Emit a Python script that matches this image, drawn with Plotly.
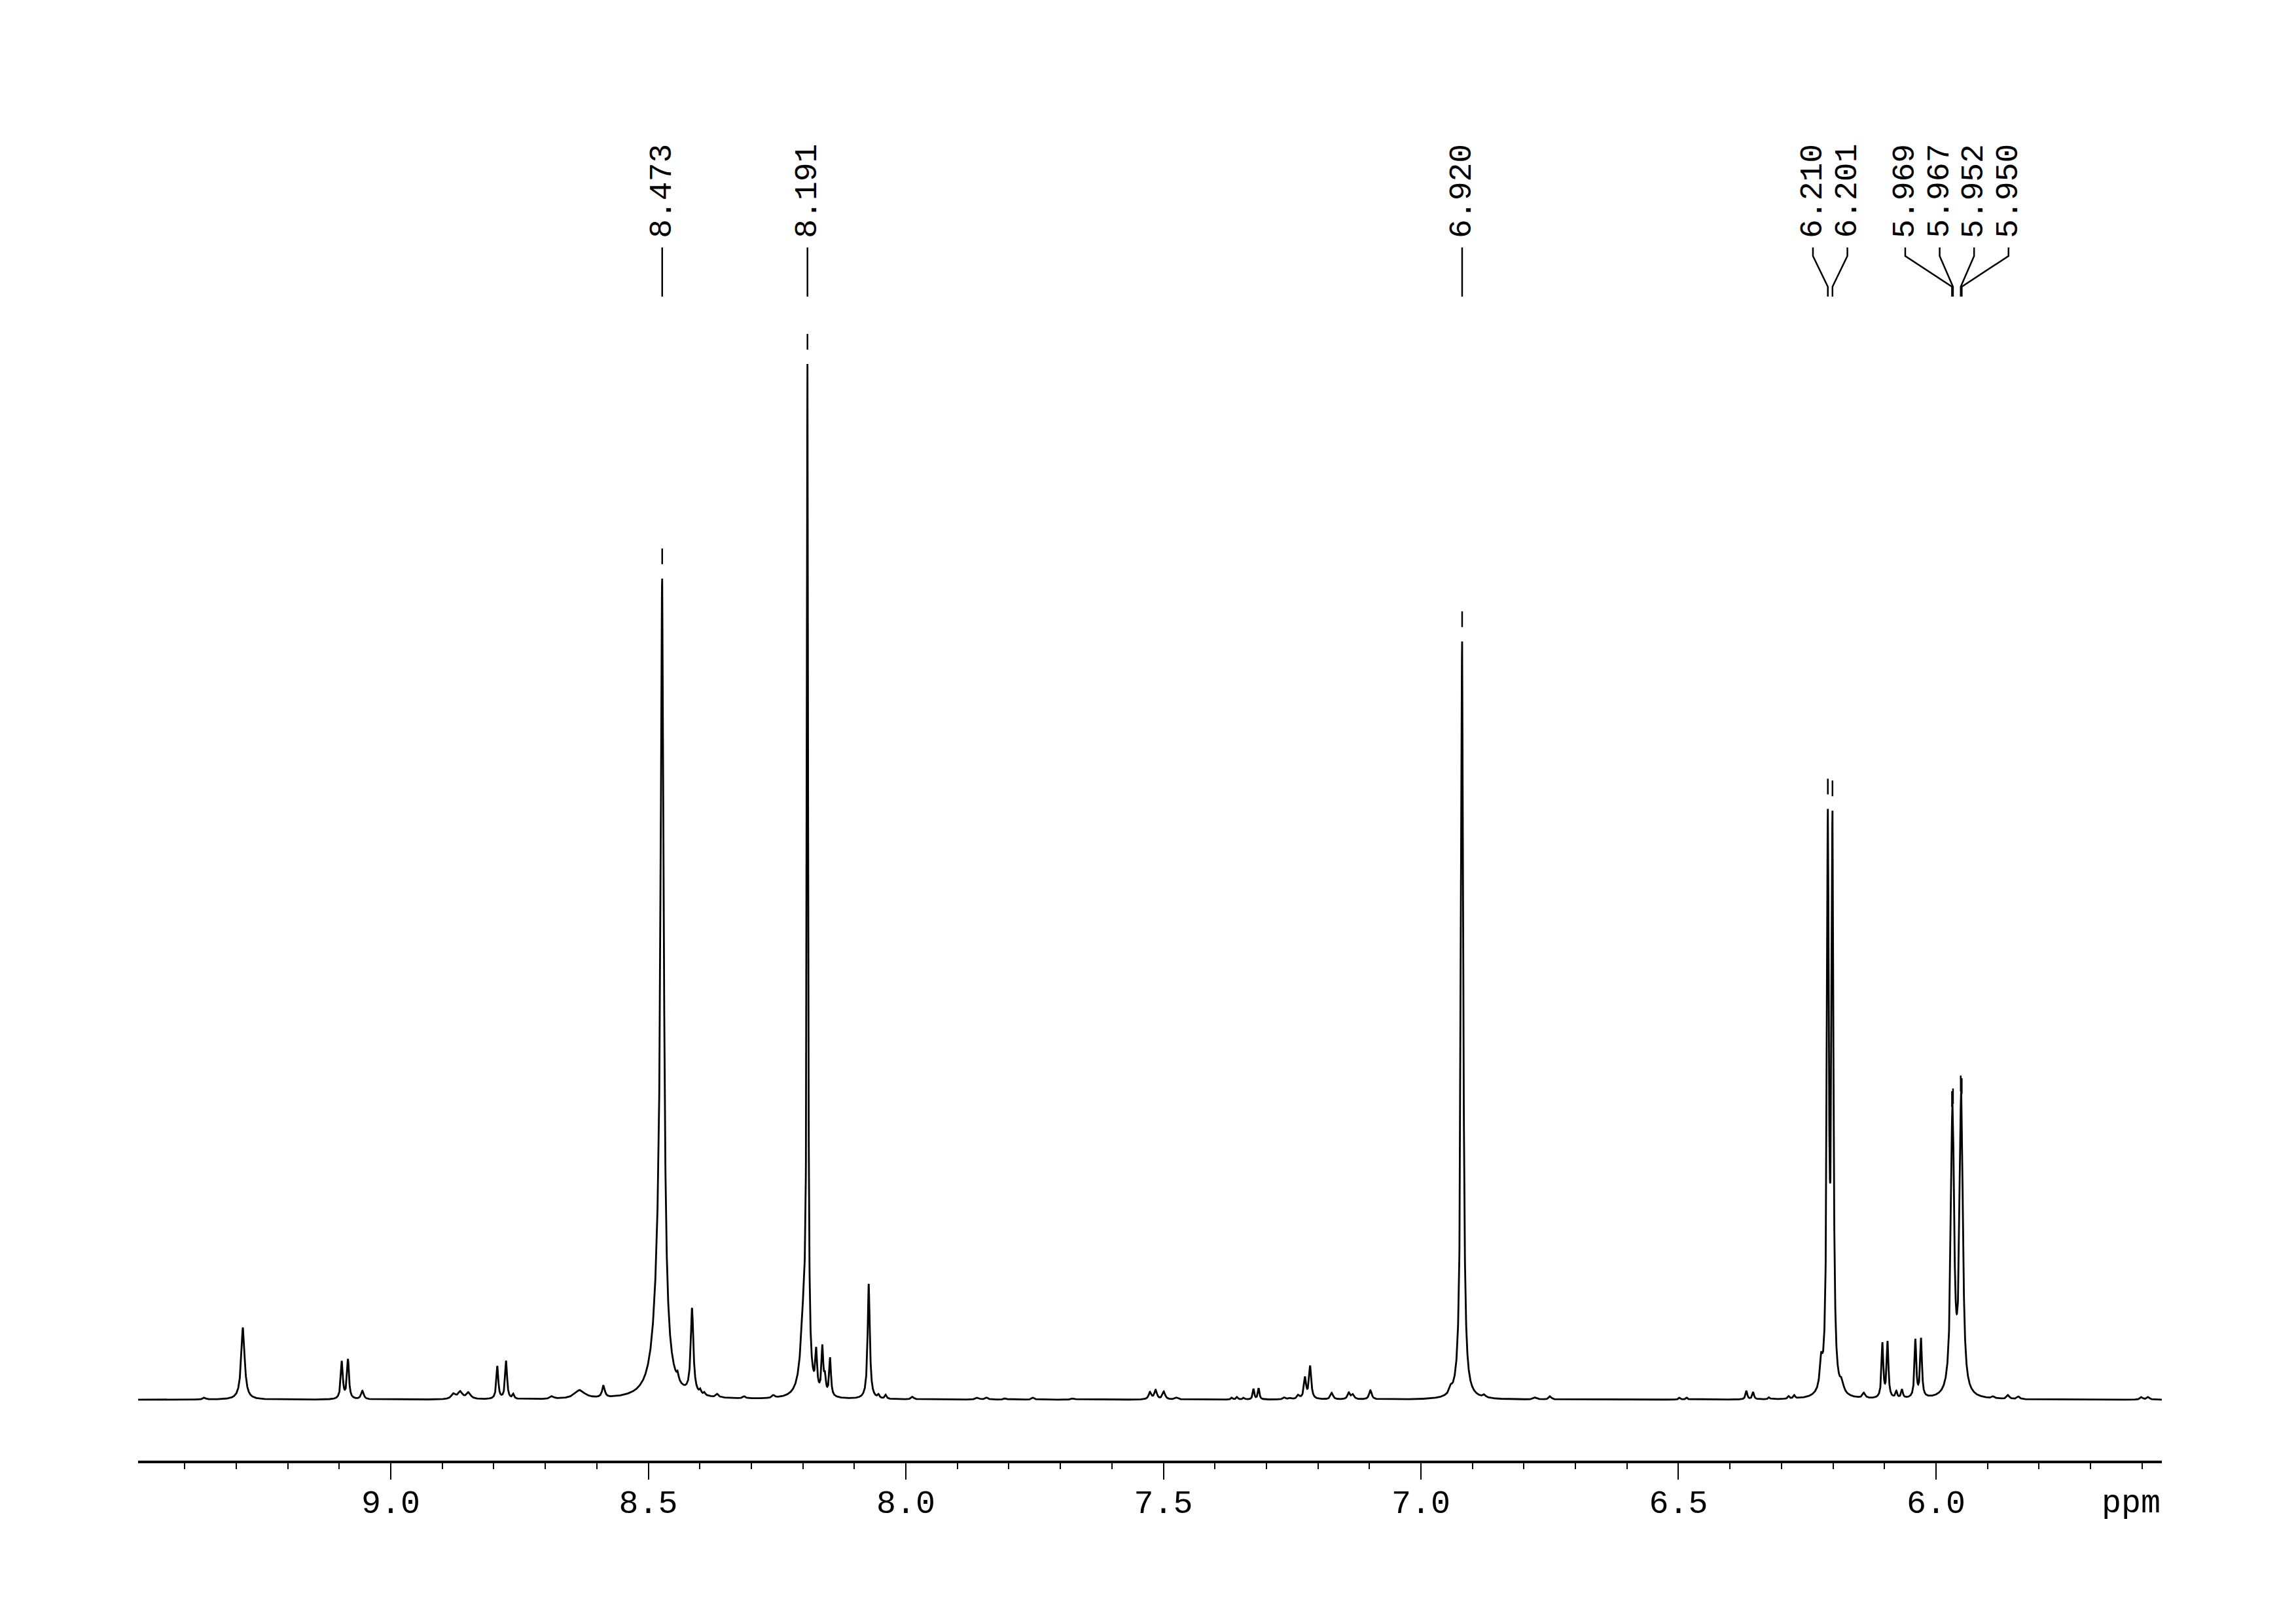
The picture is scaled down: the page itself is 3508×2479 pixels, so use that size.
import numpy as np
import plotly.graph_objects as go

# ---------------- data ----------------
# peak list: chemical shift (ppm), amplitude (arbitrary intensity units), Lorentzian half-width (ppm)
peak_ppm = [9.362, 9.287, 9.095, 9.083, 9.055, 8.878, 8.865, 8.849, 8.793, 8.776,
            8.762, 8.687, 8.633, 8.587, 8.478, 8.473, 8.443, 8.415, 8.399, 8.391,
            8.366, 8.314, 8.257, 8.198, 8.191, 8.174, 8.162, 8.157, 8.147, 8.072,
            8.053, 8.039, 7.987, 7.861, 7.843, 7.807, 7.753, 7.675, 7.526, 7.515,
            7.499, 7.474, 7.367, 7.357, 7.344, 7.325, 7.315, 7.265, 7.254, 7.238,
            7.225, 7.215, 7.173, 7.140, 7.132, 7.098, 6.942, 6.920, 6.877, 6.778,
            6.749, 6.498, 6.484, 6.368, 6.355, 6.324, 6.286, 6.275, 6.223, 6.210,
            6.201, 6.183, 6.140, 6.104, 6.094, 6.077, 6.066, 6.040, 6.029, 5.969,
            5.967, 5.952, 5.950, 5.889, 5.860, 5.840, 5.601, 5.588]
peak_amp = [3, 110, 57, 60, 13, 8, 11, 10, 50, 58,
            7, 4, 13, 18, 165, 1113, 10, 130, 6, 4,
            5, 3, 4, 120, 1520, 58, 70, 25, 58, 176,
            5, 6, 4, 3, 3, 2, 3, 2, 11, 14,
            12, 3, 3, 4, 3, 16, 17, 3, 2, 6,
            32, 50, 10, 10, 7, 14, 8, 1158, 4, 3,
            5, 3, 3, 13, 11, 3, 4, 5, 40, 852,
            850, 15, 8, 83, 85, 10, 13, 88, 89, 236,
            236, 248, 248, 3, 6, 4, 4, 4]
peak_hw = [0.003, 0.004, 0.0023, 0.0023, 0.003, 0.005, 0.005, 0.005, 0.0022, 0.0022,
           0.002, 0.004, 0.012, 0.003, 0.012, 0.0035, 0.002, 0.003, 0.002, 0.002,
           0.003, 0.003, 0.003, 0.007, 0.0014, 0.002, 0.002, 0.002, 0.002, 0.0025,
           0.002, 0.002, 0.003, 0.004, 0.003, 0.003, 0.003, 0.004, 0.003, 0.003,
           0.003, 0.004, 0.002, 0.002, 0.002, 0.0018, 0.0018, 0.003, 0.003, 0.003,
           0.0025, 0.0025, 0.003, 0.003, 0.003, 0.003, 0.003, 0.0026, 0.003, 0.004,
           0.003, 0.002, 0.002, 0.002, 0.002, 0.002, 0.002, 0.002, 0.003, 0.0022,
           0.0022, 0.004, 0.003, 0.002, 0.002, 0.002, 0.002, 0.002, 0.002, 0.0033,
           0.0033, 0.0033, 0.0033, 0.003, 0.003, 0.003, 0.003, 0.003]

# peak-picking labels (groups share one leader fan)
label_groups = [[8.473], [8.191], [6.920], [6.210, 6.201], [5.969, 5.967, 5.952, 5.950]]

# axis
x_left, x_right = 9.4905, 5.5616
major_ticks = [9.0, 8.5, 8.0, 7.5, 7.0, 6.5, 6.0]
axis_unit = "ppm"

# ---------------- layout geometry (pixels) ----------------
W, H = 3508, 2479
PL, PR = 211, 3303          # plot area left/right
PT, PB = 100, 2231          # plot area top/bottom (axis line)
BASE = 2138                 # baseline pixel row
px_per_ppm = (PR - PL) / (x_left - x_right)

def y_of(py):
    return BASE - py

# ---------------- spectrum ----------------
grid = np.arange(x_right, x_left, 0.0002)
spec = np.zeros_like(grid)
pp = np.array(peak_ppm); aa = np.array(peak_amp, float); ww = np.array(peak_hw)
for p, a, w in zip(pp, aa, ww):
    spec += a / (1.0 + ((grid - p) / w) ** 2)

def spec_at(x):
    return float(np.sum(aa / (1.0 + ((x - pp) / ww) ** 2)))

fig = go.Figure()
fig.add_trace(go.Scatter(x=grid, y=spec, mode="lines",
                         line=dict(color="black", width=2.8), hoverinfo="skip",
                         showlegend=False))

# ---------------- peak labels ----------------
FONT = "Liberation Mono"
label_spacing_px = 52.6
lx, ly = [], []
mx, my = [], []
for grp in label_groups:
    n = len(grp)
    center = sum(grp) / n
    for i, p in enumerate(grp):
        lab_x = center + (((n - 1) / 2.0 - i) * label_spacing_px) / px_per_ppm
        if n == 1:
            lx += [p, p, None]; ly += [y_of(378), y_of(453), None]
        else:
            lx += [lab_x, lab_x, p, p, None]
            ly += [y_of(378), y_of(391), y_of(438), y_of(453), None]
        fig.add_annotation(x=lab_x, y=y_of(366), xref="x", yref="y",
                           text=f"{p:.3f}", textangle=-90, showarrow=False,
                           xanchor="center", yanchor="bottom",
                           font=dict(family=FONT, size=48, color="black"))
        top = spec_at(p)
        mx += [p, p, None]; my += [top + 22, top + 46, None]

fig.add_trace(go.Scatter(x=lx, y=ly, mode="lines", line=dict(color="black", width=2.5),
                         hoverinfo="skip", showlegend=False))
fig.add_trace(go.Scatter(x=mx, y=my, mode="lines", line=dict(color="black", width=2.5),
                         hoverinfo="skip", showlegend=False))

fig.add_annotation(x=1.0, y=0, xref="paper", yref="paper", text=axis_unit,
                   showarrow=False, xanchor="right", yanchor="top", yshift=-35,
                   font=dict(family=FONT, size=50, color="black"))

fig.update_layout(
    width=W, height=H,
    margin=dict(l=PL, r=W - PR, t=PT, b=H - PB, pad=0),
    paper_bgcolor="white", plot_bgcolor="white",
    showlegend=False,
    xaxis=dict(range=[x_left, x_right], showgrid=False, zeroline=False,
               showline=True, linecolor="black", linewidth=3.5,
               ticks="outside", tickvals=major_ticks,
               ticktext=[f"{t:.1f}" for t in major_ticks],
               ticklen=25, tickwidth=2, tickcolor="black",
               ticklabelstandoff=-9,
               minor=dict(dtick=0.1, tick0=0, ticks="outside", ticklen=9,
                          tickwidth=2, tickcolor="black", showgrid=False),
               tickfont=dict(family=FONT, size=50, color="black")),
    yaxis=dict(range=[y_of(PB), y_of(PT)], visible=False, fixedrange=True),
)

fig.write_html("out.html", config={"displayModeBar": False},
               post_script="document.body.style.margin='0';document.body.style.padding='0';")
